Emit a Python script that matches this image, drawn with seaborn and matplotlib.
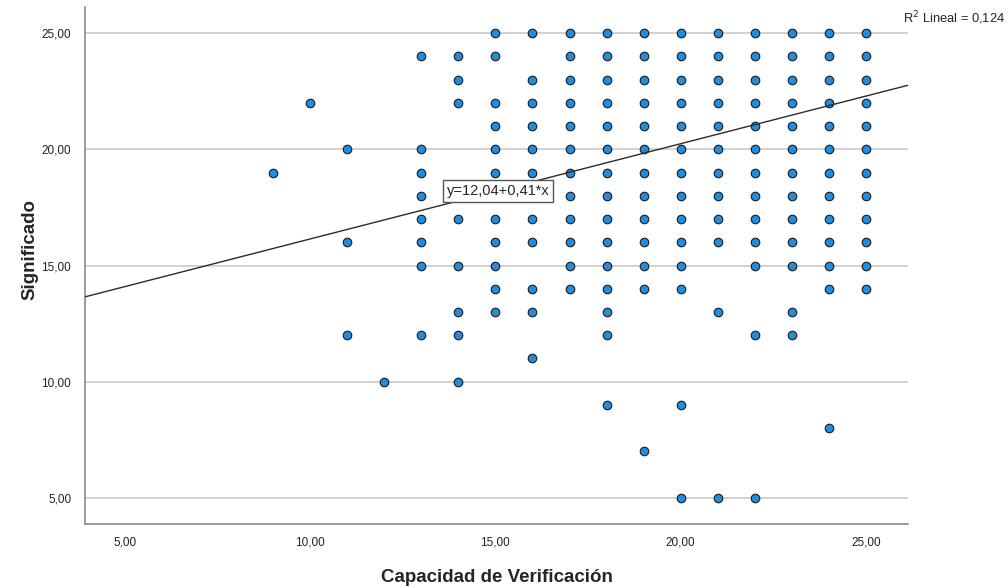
import matplotlib
matplotlib.use("Agg")
import matplotlib.pyplot as plt
import matplotlib.ticker as mticker
import seaborn as sns
import pandas as pd

# Valores (una fila por cada valor de Significado)
filas_y = [25, 24, 23, 22, 21, 20, 19, 18, 17, 16, 15, 14, 13, 12, 11, 10, 9, 8, 7, 5]
filas_x = [
    [15, 16, 17, 18, 19, 20, 21, 22, 23, 24, 25],
    [13, 14, 15, 17, 18, 19, 20, 21, 22, 23, 24, 25],
    [14, 16, 17, 18, 19, 20, 21, 22, 23, 24, 25],
    [10, 14, 15, 16, 17, 18, 19, 20, 21, 22, 23, 24, 25],
    [15, 16, 17, 18, 19, 20, 21, 22, 23, 24, 25],
    [11, 13, 15, 16, 17, 18, 19, 20, 21, 22, 23, 24, 25],
    [9, 13, 15, 16, 17, 18, 19, 20, 21, 22, 23, 24, 25],
    [13, 17, 18, 19, 20, 21, 22, 23, 24, 25],
    [13, 14, 15, 16, 17, 18, 19, 20, 21, 22, 23, 24, 25],
    [11, 13, 15, 16, 17, 18, 19, 20, 21, 22, 23, 24, 25],
    [13, 14, 15, 17, 18, 19, 20, 22, 23, 24, 25],
    [15, 16, 17, 18, 19, 20, 24, 25],
    [14, 15, 16, 18, 21, 23],
    [11, 13, 14, 18, 22, 23],
    [16],
    [12, 14],
    [18, 20],
    [24],
    [19],
    [20, 21, 22],
]

intercepto = 12.04
pendiente = 0.41
r2 = 0.124
ticks_x = [5, 10, 15, 20, 25]
ticks_y = [5, 10, 15, 20, 25]

rows = []
for yv, xs in zip(filas_y, filas_x):
    for xv in xs:
        rows.append({"Capacidad de Verificación": xv, "Significado": yv})
df = pd.DataFrame(rows)

sns.set_style("white")
plt.rcParams["font.family"] = ["Liberation Sans", "DejaVu Sans"]

fig = plt.figure(figsize=(10.08, 5.88), dpi=100)
ax = fig.add_axes([85 / 1008, 1 - 524 / 588, 823 / 1008, 517 / 588])

sns.scatterplot(data=df, x="Capacidad de Verificación", y="Significado", ax=ax,
                color="#1f8ee0", edgecolor="#1a1a1a", linewidth=0.8, s=38, zorder=3)

# recta de ajuste
ax.axline((0, intercepto), slope=pendiente, color="#2b2b2b", lw=1.0, zorder=4)

ax.set_xlim(3.93, 26.13)
ax.set_ylim(3.88, 26.12)
ax.set_xticks(ticks_x)
ax.set_yticks(ticks_y)
fmt = mticker.FuncFormatter(lambda v, p: f"{v:.2f}".replace(".", ","))
ax.xaxis.set_major_formatter(fmt)
ax.yaxis.set_major_formatter(fmt)
ax.tick_params(axis="both", length=0, labelsize=8.5, colors="#222222")
ax.tick_params(axis="x", pad=9)
ax.tick_params(axis="y", pad=10)

ax.grid(axis="y", color="#cfcfcf", lw=1.3)
ax.grid(axis="x", visible=False)
ax.set_axisbelow(True)
for side in ["top", "right"]:
    ax.spines[side].set_visible(False)
for side in ["left", "bottom"]:
    ax.spines[side].set_color("#8a8a8a")
    ax.spines[side].set_linewidth(1.2)

ax.set_xlabel("Capacidad de Verificación", fontsize=13.5, fontweight="bold")
ax.set_ylabel("Significado", fontsize=13.5, fontweight="bold")
ax.xaxis.set_label_coords(0.5, -0.087)
ax.yaxis.set_label_coords(-0.057, 0.53)

ax.text(13.68, 18.2, "y=12,04+0,41*x", fontsize=10.5, va="center", ha="left", zorder=5,
        bbox=dict(boxstyle="square,pad=0.25", facecolor="white", edgecolor="#555555", lw=1))

fig.text(903 / 1008, 1 - 18 / 588, "R$^{2}$ Lineal = " + f"{r2:.3f}".replace(".", ","),
         fontsize=9.3, va="center", ha="left")

fig.savefig("out.png", dpi=100)
